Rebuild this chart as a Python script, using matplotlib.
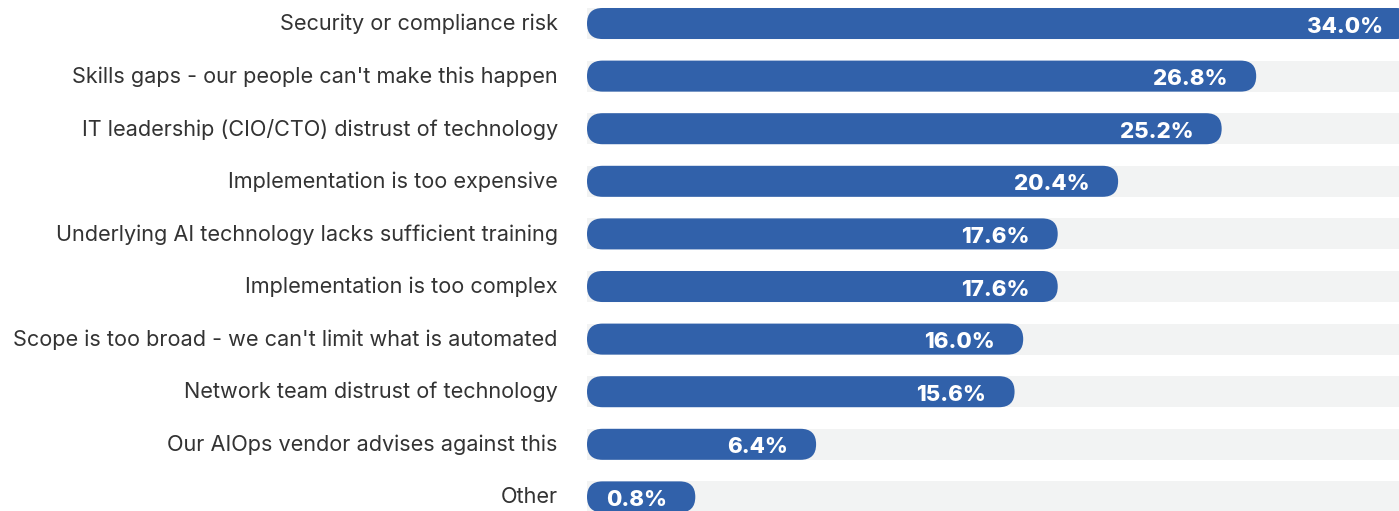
import matplotlib
matplotlib.use("Agg")
from matplotlib import pyplot as plt
from matplotlib.patches import FancyBboxPatch
import matplotlib.transforms as mtransforms

# data, top to bottom
reasons = [
    "Security or compliance risk",
    "Skills gaps - our people can't make this happen",
    "IT leadership (CIO/CTO) distrust of technology",
    "Implementation is too expensive",
    "Underlying AI technology lacks sufficient training",
    "Implementation is too complex",
    "Scope is too broad - we can't limit what is automated",
    "Network team distrust of technology",
    "Our AIOps vendor advises against this",
    "Other",
]
shares = [34.0, 26.8, 25.2, 20.4, 17.6, 17.6, 16.0, 15.6, 6.4, 0.8]

blue = "#3161aa"
track = "#f2f3f3"
start = -4.22      # bars have a minimum visible stub before zero
bar_h = 0.59

fig = plt.figure(figsize=(13.99, 5.11), dpi=100)
ax = fig.add_axes([587 / 1399, 0, 1 - 587 / 1399, 1])
ax.set_xlim(start, 33.42)
ax.set_ylim(9.268, -0.447)
for s in ax.spines.values():
    s.set_visible(False)
ax.set_xticks([])

ys = list(range(len(reasons)))
ax.set_yticks(ys)
ax.set_yticklabels(reasons, fontsize=15.6, color="#333333", family="Inter")
ax.tick_params(axis="y", length=0, pad=21)
# nudge labels up a little
shift = mtransforms.ScaledTranslation(0, 1.5 / 100, fig.dpi_scale_trans)
for t in ax.get_yticklabels():
    t.set_transform(t.get_transform() + shift)

# grey tracks to the right edge
ax.barh(ys, [33.42 - start] * len(ys), left=start, height=bar_h, color=track, zorder=1)

# rounded blue bars
fig.canvas.draw()
px_x = ax.transData.transform((1, 0))[0] - ax.transData.transform((0, 0))[0]
px_y = abs(ax.transData.transform((0, 1))[1] - ax.transData.transform((0, 0))[1])
radius_px = bar_h * px_y / 2
r_x = radius_px / px_x
aspect = (radius_px / px_y) / r_x

for y, v in zip(ys, shares):
    p = FancyBboxPatch((start, y - bar_h / 2), v - start, bar_h,
                       boxstyle="round,pad=0,rounding_size=%f" % r_x,
                       mutation_aspect=aspect, facecolor=blue, edgecolor="none", zorder=2)
    ax.add_patch(p)
    ax.annotate("%.1f%%" % v, (v, y), xytext=(-20.5, -2.2), textcoords="offset points",
                ha="right", va="center", color="white", fontsize=16,
                fontweight="heavy", family="Inter", zorder=3, annotation_clip=False)

fig.savefig("out.png", dpi=100)
